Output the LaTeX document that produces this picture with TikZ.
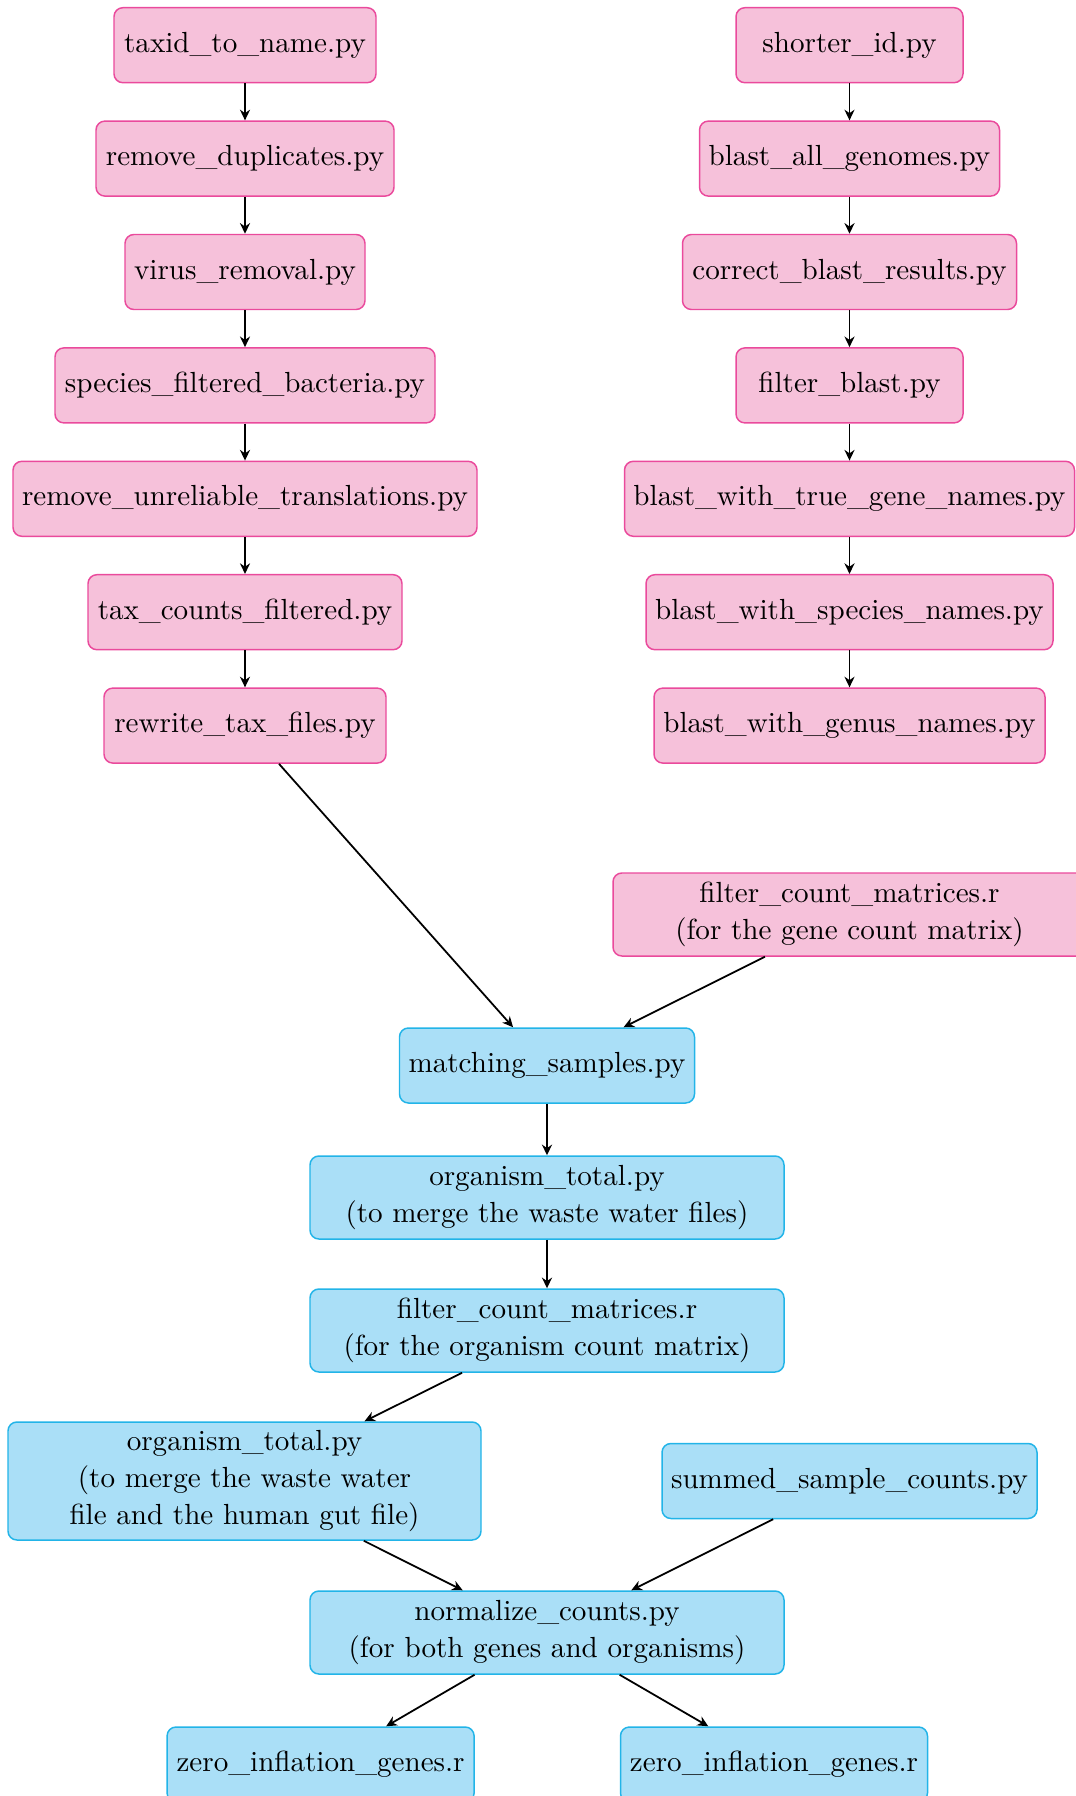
\documentclass[tikz,border=0pt]{standalone}
\usetikzlibrary{arrows.meta}
\definecolor{pinkfill}{HTML}{F6C1DA}
\definecolor{pinkdraw}{HTML}{EA4A9C}
\definecolor{bluefill}{HTML}{AADFF7}
\definecolor{bluedraw}{HTML}{22B4E8}
\newcommand\pxu{0.33784pt}
\tikzset{
  box/.style={rectangle, rounded corners=3pt, inner sep=0pt, align=center, line width=0.5pt, font=\fontsize{9.83pt}{12.4pt}\selectfont},
  pinkbox/.style={box, fill=pinkfill, draw=pinkdraw},
  bluebox/.style={box, fill=bluefill, draw=bluedraw},
  wh/.style 2 args={minimum width=#1*\pxu, minimum height=#2*\pxu},
  conn/.style={-{Stealth[length=3.6pt,width=3.4pt]}, semithick, black},
}
\begin{document}
\begin{tikzpicture}[x=0.33784pt, y=-0.33784pt]
\useasboundingbox (0,0) rectangle (1075,1796);
% left column
\node[pinkbox, wh={262}{75}] (l1) at (245,45.2) {taxid\_to\_name.py};
\node[pinkbox, wh={298}{75}] (l2) at (245,158.6) {remove\_duplicates.py};
\node[pinkbox, wh={240}{75}] (l3) at (245,272) {virus\_removal.py};
\node[pinkbox, wh={380}{75}] (l4) at (245,385.4) {species\_filtered\_bacteria.py};
\node[pinkbox, wh={464}{75}] (l5) at (245,498.8) {remove\_unreliable\_translations.py};
\node[pinkbox, wh={314}{75}] (l6) at (245,612.2) {tax\_counts\_filtered.py};
\node[pinkbox, wh={282}{75}] (l7) at (245,725.6) {rewrite\_tax\_files.py};
% right column
\node[pinkbox, wh={227}{75}] (r1) at (849.5,45.2) {shorter\_id.py};
\node[pinkbox, wh={300}{75}] (r2) at (849.5,158.6) {blast\_all\_genomes.py};
\node[pinkbox, wh={334}{75}] (r3) at (849.5,272) {correct\_blast\_results.py};
\node[pinkbox, wh={227}{75}] (r4) at (849.5,385.4) {filter\_blast.py};
\node[pinkbox, wh={450}{75}] (r5) at (849.5,498.8) {blast\_with\_true\_gene\_names.py};
\node[pinkbox, wh={407}{75}] (r6) at (849.5,612.2) {blast\_with\_species\_names.py};
\node[pinkbox, wh={391}{75}] (r7) at (849.5,725.6) {blast\_with\_genus\_names.py};
% lower part
\node[pinkbox, wh={473}{83}] (fg) at (849.5,914.5) {filter\_count\_matrices.r\\(for the gene count matrix)};
\node[bluebox, wh={295}{75}] (ms) at (547,1065.5) {matching\_samples.py};
\node[bluebox, wh={474}{83}] (ot1) at (547,1197.5) {organism\_total.py\\(to merge the waste water files)};
\node[bluebox, wh={474}{83}] (fo) at (547,1330.5) {filter\_count\_matrices.r\\(for the organism count matrix)};
\node[bluebox, wh={473}{118}] (ot2) at (244.5,1481) {organism\_total.py\\(to merge the waste water\\file and the human gut file)};
\node[bluebox, wh={375}{75}] (ss) at (849.5,1481) {summed\_sample\_counts.py};
\node[bluebox, wh={474}{83}] (nc) at (547,1632.5) {normalize\_counts.py\\(for both genes and organisms)};
\node[bluebox, wh={307}{75}] (z1) at (320.6,1764.5) {zero\_inflation\_genes.r};
\node[bluebox, wh={307}{75}] (z2) at (774,1764.5) {zero\_inflation\_genes.r};
% connectors
\foreach \a/\b in {l1/l2,l2/l3,l3/l4,l4/l5,l5/l6,l6/l7,r1/r2,r2/r3,r3/r4,r4/r5,r5/r6,r6/r7,l7/ms,fg/ms,ms/ot1,ot1/fo,fo/ot2,ot2/nc,ss/nc,nc/z1,nc/z2}
  \draw[conn] (\a) -- (\b);
\end{tikzpicture}
\end{document}
